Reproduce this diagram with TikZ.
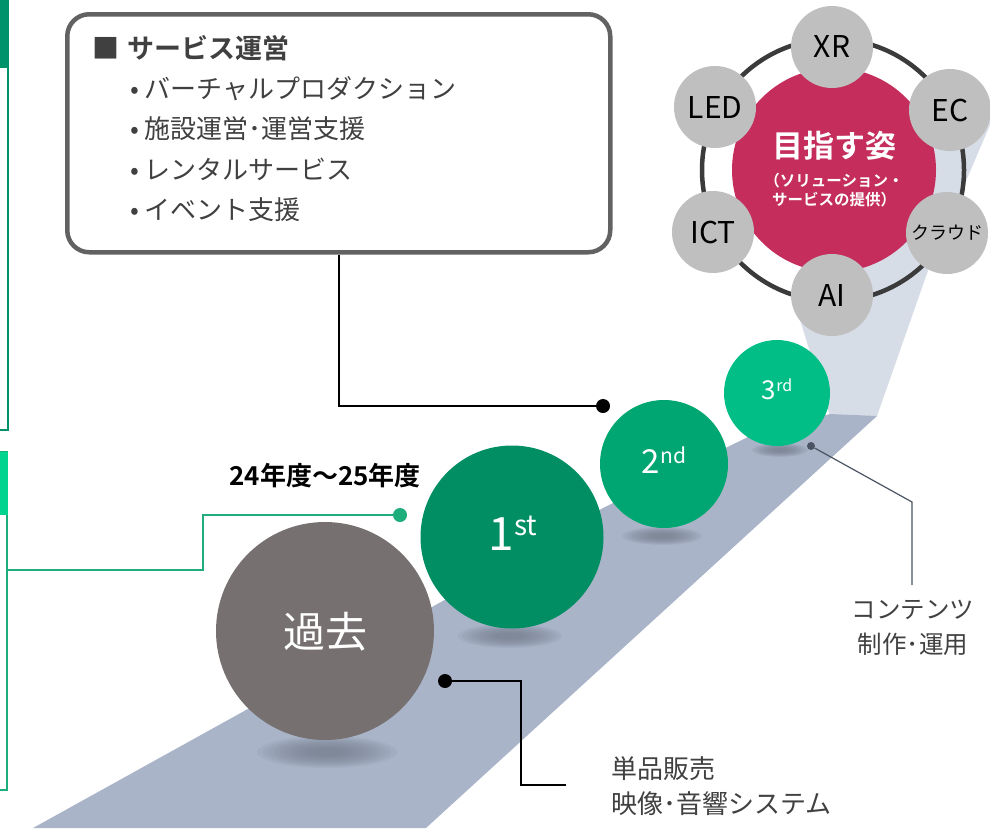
\documentclass[tikz,border=0pt]{standalone}
\usepackage{fontspec}
\setmainfont{Noto Sans CJK JP}[BoldFont={Noto Sans CJK JP Bold}]
\definecolor{roaddark}{HTML}{AAB4C8}
\definecolor{roadlight}{HTML}{D7DDE7}
\definecolor{shadowgray}{HTML}{6F7888}
\definecolor{pastgray}{HTML}{767170}
\definecolor{firstgreen}{HTML}{008E62}
\definecolor{secondgreen}{HTML}{00A671}
\definecolor{thirdgreen}{HTML}{00BE85}
\definecolor{goalred}{HTML}{C42D5C}
\definecolor{techgray}{HTML}{BFBFBF}
\definecolor{ringgray}{HTML}{3B3B3B}
\definecolor{boxgray}{HTML}{626262}
\definecolor{textgray}{HTML}{404040}
\definecolor{darkframe}{HTML}{00926A}
\definecolor{lightframe}{HTML}{00D48F}
\definecolor{linegreen}{HTML}{1DAE7B}
\definecolor{leadgray}{HTML}{4A5464}
\tikzset{
  stage/.style={circle, inner sep=0pt, text=white},
  tech/.style={circle, fill=techgray, inner sep=0pt, minimum size=82pt, text=black, font=\fontsize{30}{30}\selectfont},
  dotmark/.style={circle, fill=black, inner sep=0pt, minimum size=14pt},
  lead/.style={line width=1.5pt},
  itemtext/.style={anchor=west, text=textgray, inner sep=0pt, font=\fontsize{26}{26}\selectfont},
}
\begin{document}
\begin{tikzpicture}[x=1pt,y=-1pt]
\useasboundingbox (0,0) rectangle (990,828);
\begin{scope}
\clip (0,0) rectangle (990,828);
% road
\fill[roadlight] (800,320) -- (830,416) -- (877,416) -- (930,265) -- (990,125) -- (990,115) -- (940,115) -- cycle;
\fill[roaddark] (33,828) -- (450,597) -- (603,508) -- (750,436) -- (830,414) -- (877,416) -- (426,828) -- cycle;
% shadows under the stages
\foreach \s in {1.0,0.92,...,0.2}{
  \fill[shadowgray, opacity=0.1] (327,752) ellipse ({70*\s} and {16*\s});
  \fill[shadowgray, opacity=0.1] (510,636) ellipse ({52*\s} and {12*\s});
  \fill[shadowgray, opacity=0.1] (662,536) ellipse ({40*\s} and {9*\s});
  \fill[shadowgray, opacity=0.1] (780,450) ellipse ({28*\s} and {7*\s});
}
% frames cut at the left edge
\draw[darkframe, line width=1.5pt] (-20,-20) rectangle (8,430);
\fill[darkframe] (-20,-20) rectangle (9,68);
\draw[linegreen, line width=1.5pt] (-20,452) rectangle (7,790);
\fill[lightframe] (-20,452) rectangle (8,515);
\end{scope}

% service box
\node[draw=boxgray, line width=4.5pt, rounded corners=22pt, minimum width=543pt, minimum height=238pt, anchor=north west, fill=white] (svcbox) at (65,12) {};
\node[itemtext, font=\fontsize{27}{27}\selectfont] (svctitle) at (92,48) {■\hspace{8pt}\textbf{サービス運営}};
\node[itemtext] (item1) at (130,89) {• バーチャルプロダクション};
\node[itemtext] (item2) at (130,129) {• 施設運営･運営支援};
\node[itemtext] (item3) at (130,169) {• レンタルサービス};
\node[itemtext] (item4) at (130,210) {• イベント支援};

% stages
\node[stage, fill=pastgray, minimum size=218pt] (past) at (325,631) {};
\node[text=white, font=\fontsize{42}{42}\selectfont] (pastlabel) at (325,632) {過去};
\node[stage, fill=firstgreen, minimum size=183pt] (first) at (512,537) {};
\node[text=white, font=\fontsize{46}{46}\selectfont] (firstlabel) at (513,533) {1\raisebox{0.32em}{\fontsize{28}{28}\selectfont st}};
\node[stage, fill=secondgreen, minimum size=128pt] (second) at (664,464) {};
\node[text=white, font=\fontsize{33}{33}\selectfont] (secondlabel) at (664,460) {2\raisebox{0.32em}{\fontsize{21}{21}\selectfont nd}};
\node[stage, fill=thirdgreen, minimum size=106pt] (third) at (777,393) {};
\node[text=white, font=\fontsize{26}{26}\selectfont] (thirdlabel) at (777,389) {3\raisebox{0.32em}{\fontsize{16}{16}\selectfont rd}};

% goal cluster
\node[circle, draw=ringgray, line width=4.5pt, minimum size=262pt, inner sep=0pt] (ring) at (833,170) {};
\node[circle, fill=goalred, minimum size=204pt, inner sep=0pt] (goal) at (834,170) {};
\node[text=white, font=\bfseries\fontsize{31}{31}\selectfont] (goaltitle) at (834,146) {目指す姿};
\node[text=white, font=\bfseries\fontsize{15.5}{18.5}\selectfont, align=center] (goalsub) at (834,190) {（ソリューション・\\サービスの提供）};
\node[tech] (xr) at (832,47) {XR};
\node[tech] (led) at (715,107) {LED};
\node[tech] (ec) at (950,110) {EC};
\node[tech] (ict) at (713,232) {ICT};
\node[tech, font=\fontsize{18}{18}\selectfont] (cloud) at (947,233) {クラウド};
\node[tech] (ai) at (832,295) {AI};

% year label and connectors
\node[font=\bfseries\fontsize{26}{26}\selectfont] (years) at (325,476) {24年度～25年度};
\node[dotmark, fill=linegreen] (yeardot) at (400,515) {};
\coordinate (greenstart) at (7,570);
\draw[linegreen, line width=2pt] (greenstart) -- ++(196,0) |- (yeardot);

\node[dotmark] (svcdot) at (603,406) {};
\draw[lead] (svcbox.south) |- (svcdot);

\node[dotmark] (pastdot) at (445,681) {};
\coordinate (pastend) at (566,785);
\draw[lead] (pastdot) -| ([xshift=-45pt]pastend) -- (pastend);
\node[anchor=west, text=textgray, align=left, font=\fontsize{26}{35}\selectfont] (pastnote) at (608,786) {単品販売\\映像･音響システム};

\node[dotmark, fill=leadgray, minimum size=8pt] (contdot) at (811,446) {};
\coordinate (contend) at (912,585);
\draw[leadgray, line width=1.2pt] (contdot) -- ([yshift=83pt]contend) -- (contend);
\node[text=textgray, align=center, font=\fontsize{24.5}{35}\selectfont] (contnote) at (913,628) {コンテンツ\\制作･運用};
\end{tikzpicture}
\end{document}
